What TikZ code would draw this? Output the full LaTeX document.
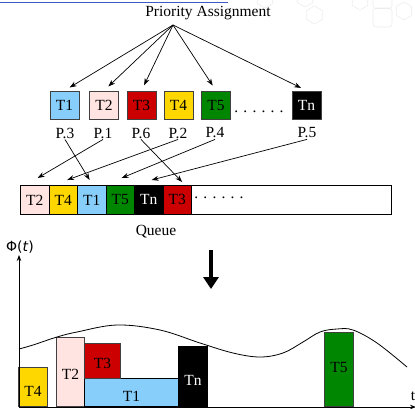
\documentclass[tikz,border=0pt]{standalone}
\usepackage{fontspec}
\setmainfont{Liberation Serif}
\newfontfamily\phifont{DejaVu Sans}
\usetikzlibrary{arrows.meta,shapes.geometric,calc}
\definecolor{cT1}{RGB}{135,206,250}
\definecolor{cT2}{RGB}{255,228,225}
\definecolor{cT3}{RGB}{204,0,0}
\definecolor{cT4}{RGB}{255,215,0}
\definecolor{cT5}{RGB}{0,134,0}
\definecolor{cline}{RGB}{60,90,200}
\definecolor{hexc}{RGB}{236,236,236}
\begin{document}
\begin{tikzpicture}[x=1pt,y=-1pt,
  every node/.style={font=\fontsize{15.5}{17}\selectfont},
  task/.style={draw=black!75,line width=0.8pt,minimum width=29pt,minimum height=28pt,inner sep=0pt,anchor=center},
  cell/.style={draw=black,line width=0.8pt,minimum width=28.5pt,minimum height=29pt,inner sep=0pt,anchor=north west},
  bar/.style={draw=black!75,line width=0.8pt,inner sep=0pt,anchor=south west},
  lbl/.style={inner sep=1pt},
  arr/.style={line width=0.7pt,-{Stealth[length=7pt,width=5pt]}},
  hex/.style={draw=hexc,line width=0.6pt,regular polygon,regular polygon sides=6,shape border rotate=30,minimum size=18pt,inner sep=0pt},
  rsq/.style={draw=hexc,line width=0.6pt,rounded corners=3pt,minimum size=19pt,inner sep=0pt}
  ]
\useasboundingbox (0,0) rectangle (415,408);
% faint background decoration
\node[hex] (h1) at (265,-1) {};
\node[hex] (h2) at (305,-2) {};
\node[hex] (h3) at (314.5,15) {};
\node[hex] (h4) at (360,1) {};
\node[hex] (h5) at (404,11) {};
\node[rsq] (r1) at (382.5,-1) {};
\node[rsq] (r2) at (382.5,17.5) {};
\coordinate (bl1) at (0,2);
\coordinate (bl2) at (228,2);
\draw[cline,line width=0.9pt] (bl1) -- (bl2);

% title
\node[lbl] (title) at (208,13) {Priority Assignment};
\coordinate (src) at (173,25);

% tasks
\node[task,fill=cT1] (t1) at (64.5,105) {T1};
\node[task,fill=cT2] (t2) at (104,105) {T2};
\node[task,fill=cT3] (t3) at (141.5,105) {T3};
\node[task,fill=cT4] (t4) at (178.5,105) {T4};
\node[task,fill=cT5] (t5) at (216,105) {T5};
\node[task,fill=black,text=white] (tn) at (306.5,105) {Tn};
\node[lbl] (dots1) at (259,112) {. . . . . .};

\foreach \t in {t1,t2,t3,t5,tn}
  \draw[arr,shorten >=6pt] (src) -- (\t.north);

% priorities
\node[lbl] (p3) at (65,133) {P.3};
\node[lbl] (p1) at (103,133) {P.1};
\node[lbl] (p6) at (141,133) {P.6};
\node[lbl] (p2) at (178,133) {P.2};
\node[lbl] (p4) at (215,133) {P.4};
\node[lbl] (p5) at (307,133) {P.5};

% queue
\node[draw=black,line width=0.8pt,minimum width=371pt,minimum height=29pt,inner sep=0pt,anchor=north west] (queue) at (20,185) {};
\node[cell,fill=cT2] (q1) at (20,185) {T2};
\node[cell,fill=cT4] (q2) at (48.5,185) {T4};
\node[cell,fill=cT1] (q3) at (77,185) {T1};
\node[cell,fill=cT5] (q4) at (105.5,185) {T5};
\node[cell,fill=black,text=white] (q5) at (134,185) {Tn};
\node[cell,fill=cT3] (q6) at (162.5,185) {T3};
\node[lbl] (dots2) at (219,198) {. . . . . .};
\node[lbl] (qlabel) at (156,232) {Queue};

\draw[arr] (p1.south) -- ($(q1.north)+(3,-7)$);
\draw[arr] (p3.south) -- ($(q3.north)+(-2,-5)$);
\draw[arr] (p2.south) -- ($(q2.north)+(4,-5)$);
\draw[arr] (p4.south) -- ($(q4.north)+(1.5,-7)$);
\draw[arr] (p6.south) -- ($(q6.north)+(5,-3)$);
\draw[arr] (p5.south) -- ($(q5.north)+(3,-5)$);

% big arrow
\coordinate (ba1) at (211,250);
\coordinate (ba2) at (211,289);
\draw[line width=4.5pt,-{Triangle[length=12pt,width=15pt]}] (ba1) -- (ba2);

% chart bars
\node[bar,fill=cT4,minimum width=29pt,minimum height=39pt] (b4) at (18,407) {};
\node at (b4.center) [yshift=-4.5pt] {T4};
\node[bar,fill=cT2,minimum width=28pt,minimum height=69pt] (b2) at (56,407) {};
\node at (b2.center) [yshift=-2.5pt] {T2};
\node[bar,fill=cT1,draw=black,minimum width=94pt,minimum height=28pt] (b1) at (84,407) {};
\node at (b1.center) [yshift=-4pt] {T1};
\node[bar,fill=cT3,minimum width=36pt,minimum height=35pt] (b3) at (84,379) {};
\node at (b3.center) [yshift=-2pt] {T3};
\node[bar,fill=black,draw=black,minimum width=29pt,minimum height=60pt] (bn) at (178,407) {};
\node[text=white] at (bn.center) [yshift=-4pt] {Tn};
\node[bar,fill=cT5,minimum width=29pt,minimum height=74pt] (b5) at (324,407) {};
\node at (b5.center) [yshift=2pt] {T5};

% curve
\draw[line width=0.8pt] plot[smooth,tension=0.6] coordinates {(19,349) (33,345) (57,337) (77,332) (117,325) (160,330) (200,343) (233,353) (260,357) (283,353) (303,342) (320,332) (337,329) (353,330) (377,343) (407,367)};

% axes
\coordinate (o) at (19,407);
\coordinate (ytop) at (19,255);
\coordinate (xend) at (416,407);
\draw[line width=0.8pt,-{Stealth[length=6pt,width=4.5pt]}] (o) -- (ytop);
\draw[line width=0.8pt,-{Stealth[length=6pt,width=4.5pt]}] (o) -- (xend);
\node[lbl,font={\phifont\fontsize{14}{16}\selectfont}] (phi) at (20,247) {Φ(\textit{t})};
\node[lbl] (tlab) at (413,396) {t};
\end{tikzpicture}
\end{document}
